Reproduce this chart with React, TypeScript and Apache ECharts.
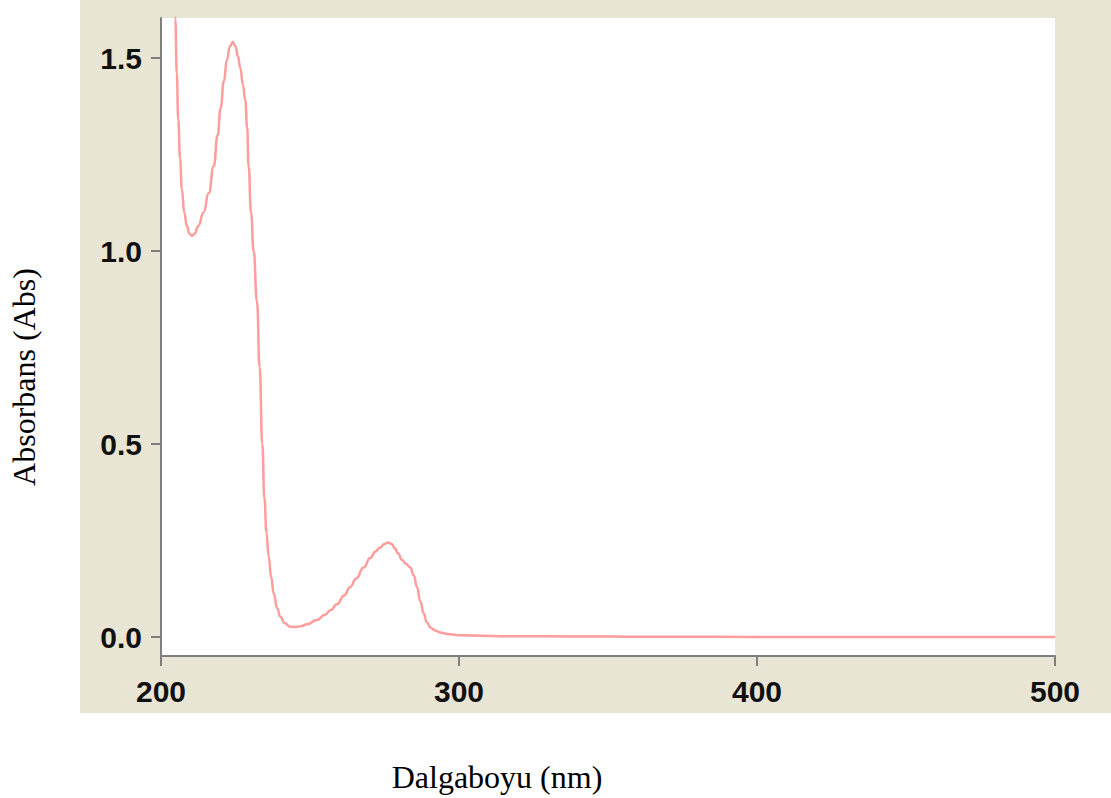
import React, { useEffect, useRef } from "react";
import * as echarts from "echarts";

const wavelengths: number[] = [
  204.0, 204.8, 205.3, 205.8, 206.4, 207.0, 207.8, 208.7, 209.5, 210.4, 211.3, 212.5,
  214.3, 216.0, 217.7, 219.0, 220.0, 221.1, 222.1, 223.1, 224.1, 225.0, 225.8, 226.6,
  227.5, 228.3, 228.9, 229.4, 230.2, 231.1, 232.2, 233.1, 234.0, 234.7, 235.4, 236.1,
  237.0, 237.8, 239.0, 240.0, 241.5, 243.4, 245.0, 246.8, 249.0, 252.3, 255.0, 257.0,
  259.0, 261.5, 263.5, 265.5, 268.0, 270.2, 272.0, 273.5, 275.0, 276.2, 277.3, 278.5,
  279.5, 280.9, 282.2, 283.7, 284.8, 285.9, 287.0, 288.1, 289.2, 290.4, 292.0, 293.7,
  296.0, 300.0, 305.0, 317.0, 330.0, 345.0, 350.0, 355.0, 370.0, 400.0, 450.0, 500.0,
];

const absorbance: number[] = [
  1.85, 1.6, 1.46, 1.34, 1.24, 1.16, 1.1, 1.065, 1.045, 1.04, 1.045, 1.065,
  1.1, 1.15, 1.22, 1.3, 1.37, 1.44, 1.495, 1.53, 1.542, 1.53, 1.505, 1.475,
  1.43, 1.39, 1.32, 1.22, 1.1, 1.0, 0.87, 0.7, 0.5, 0.36, 0.27, 0.21,
  0.155, 0.113, 0.075, 0.053, 0.036, 0.027, 0.026, 0.028, 0.033, 0.044, 0.058, 0.07,
  0.085, 0.108, 0.13, 0.152, 0.18, 0.205, 0.222, 0.232, 0.241, 0.245, 0.242, 0.23,
  0.217, 0.2, 0.19, 0.18, 0.16, 0.13, 0.093, 0.062, 0.038, 0.025, 0.017, 0.012,
  0.008, 0.005, 0.004, 0.002, 0.002, 0.0015, 0.0015, 0.001, 0.0008, 0.0005, 0.0003, 0.0002,
];

const yTickValues: number[] = [0, 0.5, 1.0, 1.5];
const xAxisName = "Dalgaboyu (nm)";
const yAxisName = "Absorbans (Abs)";

export default function App() {
  const ref = useRef<HTMLDivElement>(null);

  useEffect(() => {
    if (!ref.current) return;
    const chart = echarts.init(ref.current, undefined, { renderer: "svg" });
    const data = wavelengths.map((w, i) => [w, absorbance[i]]);
    const axisColor = "#7f7f7f";
    const labelFont = {
      fontFamily: "'Liberation Sans', Arial, sans-serif",
      fontWeight: "bold" as const,
      fontSize: 30,
      color: "#111111",
    };
    chart.setOption({
      animation: false,
      backgroundColor: "transparent",
      grid: {
        left: 161,
        top: 18,
        right: 56,
        bottom: 142,
        show: true,
        backgroundColor: "#ffffff",
        borderWidth: 0,
        containLabel: false,
        outerBoundsMode: "none",
      },
      xAxis: {
        type: "value",
        min: 200,
        max: 500,
        interval: 100,
        axisLine: { show: true, onZero: false, lineStyle: { color: axisColor, width: 2 } },
        axisTick: { show: true, length: 10, lineStyle: { color: axisColor, width: 2 } },
        axisLabel: { ...labelFont, margin: 20 },
        splitLine: { show: false },
      },
      yAxis: {
        type: "value",
        min: -0.049,
        max: 1.604,
        axisLine: { show: true, onZero: false, lineStyle: { color: axisColor, width: 2 } },
        axisTick: {
          show: true,
          length: 10,
          customValues: yTickValues,
          lineStyle: { color: axisColor, width: 2 },
        },
        axisLabel: {
          ...labelFont,
          margin: 19,
          customValues: yTickValues,
          formatter: (v: number) => v.toFixed(1),
        },
        splitLine: { show: false },
      },
      series: [
        {
          type: "line",
          data,
          showSymbol: false,
          smooth: 0.5,
          smoothMonotone: "x",
          clip: true,
          lineStyle: { color: "#ff9c9c", width: 2.5 },
        },
      ],
      graphic: [
        {
          type: "text",
          x: 497,
          y: 777,
          style: {
            text: xAxisName,
            font: "32px 'Liberation Serif', 'Times New Roman', serif",
            fill: "#000000",
            textAlign: "center",
            textVerticalAlign: "middle",
          },
        },
        {
          type: "text",
          x: 24,
          y: 377,
          rotation: Math.PI / 2,
          style: {
            text: yAxisName,
            font: "32px 'Liberation Serif', 'Times New Roman', serif",
            fill: "#000000",
            textAlign: "center",
            textVerticalAlign: "middle",
          },
        },
      ],
    });
    return () => chart.dispose();
  }, []);

  return (
    <div style={{ position: "fixed", left: 0, top: 0, width: 1111, height: 798, background: "#ffffff" }}>
      <div
        style={{ position: "absolute", left: 80, top: 0, width: 1031, height: 713, background: "#e9e5d4" }}
      />
      <div ref={ref} style={{ position: "absolute", left: 0, top: 0, width: 1111, height: 798 }} />
    </div>
  );
}
